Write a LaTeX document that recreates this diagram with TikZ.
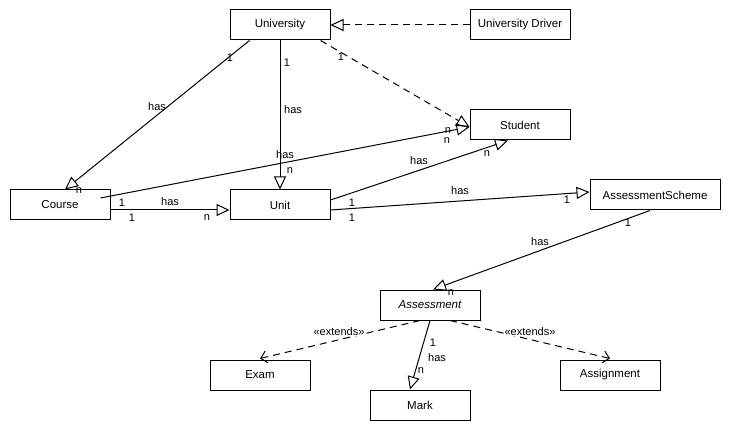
\documentclass[tikz,border=0pt]{standalone}
\usepackage{fontspec}
\setmainfont{Liberation Sans}
\usetikzlibrary{arrows.meta,calc}
\begin{document}
\begin{tikzpicture}[x=1pt,y=-1pt,
  box/.style={draw, line width=1pt, minimum width=100pt, minimum height=30pt, inner sep=0pt, font=\fontsize{11.5}{13}\selectfont},
  lbl/.style={inner sep=0pt, font=\fontsize{11}{13}\selectfont},
  conn/.style={line width=1pt},
  tri/.style={conn, -{Triangle[open,length=13pt,width=12pt]}},
  barb/.style={conn, -{Straight Barb[length=6pt,width=12pt]}},
  dsh/.style={dash pattern=on 7pt off 5pt}]
\useasboundingbox (0,0) rectangle (730,430);
\fill[white] (0,0) rectangle (730,430);
% nodes
\node[box] (univ) at (280,25) {University};
\node[box] (driver) at (520,25) {University Driver};
\node[box] (student) at (520,125) {Student};
\node[box] (course) at (60,205) {Course};
\node[box] (unit) at (280,205) {Unit};
\node[box, minimum width=130pt] (scheme) at (655,195) {AssessmentScheme};
\node[box, font=\fontsize{11.5}{13}\selectfont\itshape] (assess) at (430,305) {Assessment};
\node[box] (exam) at (260,375) {Exam};
\node[box] (mark) at (420,405) {Mark};
\node[box] (assign) at (610,375) {Assignment};
% connectors
\draw[tri, dsh] (driver.west) -- (univ.east);
\draw[tri, dsh] ($(univ.south east)+(-10,0)$) -- ($(student.west)+(0,2)$);
\draw[tri] ($(univ.south west)+(20,0)$) -- ($(course.north)+(5,0)$);
\draw[tri] (univ.south) -- (unit.north);
\draw[tri] ($(course.east)+(-10,-7)$) -- ($(student.west)+(0,2)$);
\draw[tri] ($(unit.east)+(0,-5)$) -- ($(student.south)+(-12,0)$);
\draw[tri] ($(unit.east)+(0,5)$) -- ($(scheme.west)+(0,-3)$);
\draw[tri] ($(course.east)+(0,5)$) -- ($(unit.west)+(0,5)$);
\draw[tri] ($(scheme.south)+(-5,0)$) -- ($(assess.north)+(3,0)$);
\draw[barb, dsh] ($(assess.south)+(-10,0)$) -- ($(exam.north)+(0,-1)$);
\draw[barb, dsh] ($(assess.south)+(20,0)$) -- ($(assign.north)+(0,-1)$);
\draw[tri] (assess.south) -- ($(mark.north)+(-10,0)$);
% labels
\node[lbl] (l1) at (341,57) {1};
\node[lbl] (l2) at (448,131) {n};
\node[lbl] (l3) at (447,141) {n};
\node[lbl] (l4) at (230,58) {1};
\node[lbl] (l5) at (157,107) {has};
\node[lbl] (l6) at (79,191) {n};
\node[lbl] (l7) at (287,63) {1};
\node[lbl] (l8) at (293,110) {has};
\node[lbl] (l9) at (290,171) {n};
\node[lbl] (l10) at (285,155) {has};
\node[lbl] (l11) at (419,161) {has};
\node[lbl] (l12) at (487,154) {n};
\node[lbl] (l13) at (460,191) {has};
\node[lbl] (l14) at (352,203) {1};
\node[lbl] (l15) at (352,218) {1};
\node[lbl] (l16) at (567,200) {1};
\node[lbl] (l17) at (122,203) {1};
\node[lbl] (l18) at (170,202) {has};
\node[lbl] (l19) at (132,218) {1};
\node[lbl] (l20) at (207,218) {n};
\node[lbl] (l21) at (628,223) {1};
\node[lbl] (l22) at (540,242) {has};
\node[lbl] (l23) at (451,293) {n};
\node[lbl, fill=white] (l24) at (339,332) {«extends»};
\node[lbl, fill=white] (l25) at (530,332) {«extends»};
\node[lbl] (l26) at (433,343) {1};
\node[lbl] (l27) at (437,358) {has};
\node[lbl] (l28) at (421,371) {n};
\end{tikzpicture}
\end{document}
